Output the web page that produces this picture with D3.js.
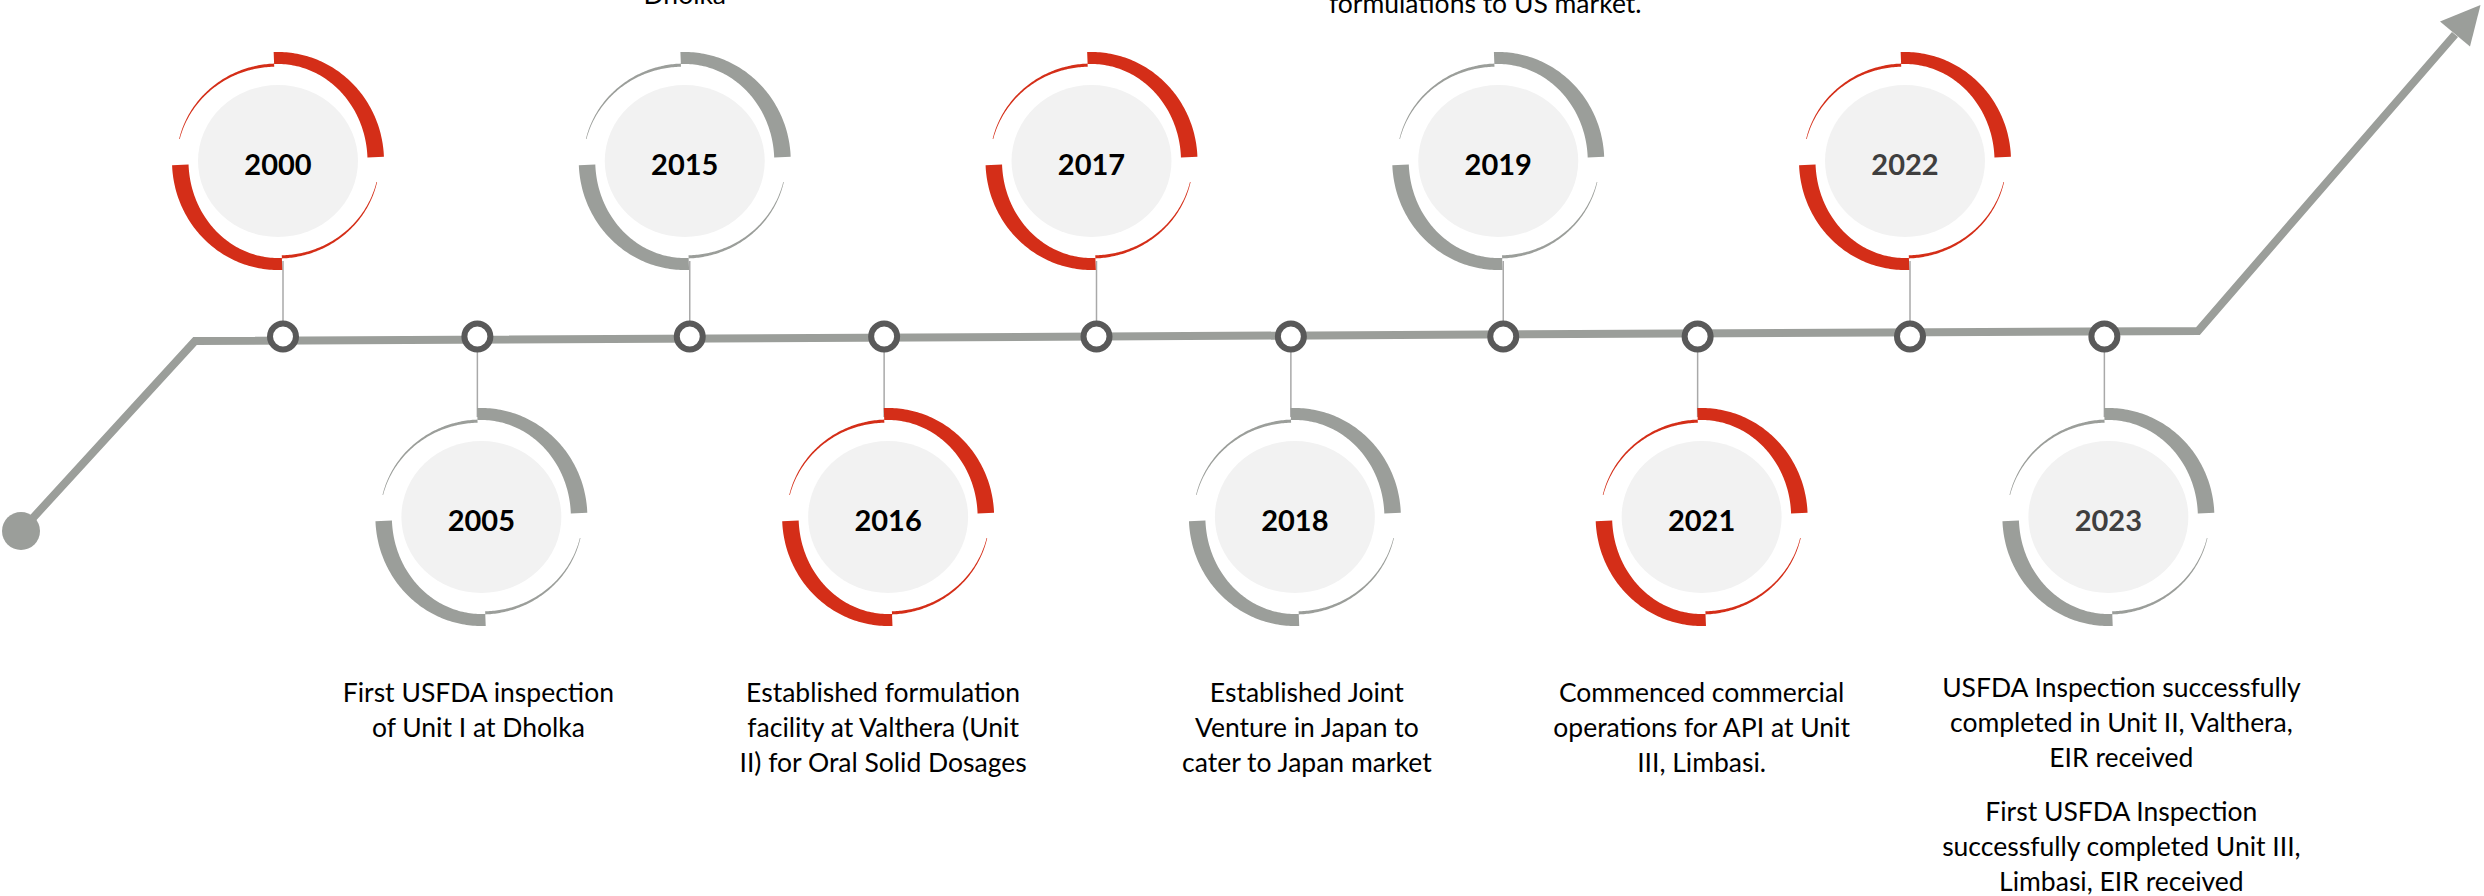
<!DOCTYPE html>
<html><head><meta charset="utf-8">
<script src="https://cdn.jsdelivr.net/npm/d3@7"></script>
<style>html,body{margin:0;padding:0;background:#fff;overflow:hidden}</style>
</head><body>
<svg id="chart" width="2484" height="896"></svg>
<script>
// ---------------- data ----------------
const years = ["2000","2005","2015","2016","2017","2018","2019","2021","2022","2023"];
const placement = ["above","below","above","below","above","below","above","below","above","below"];
const accent = ["red","grey","grey","red","red","grey","grey","red","red","grey"];
const yearTone = ["dark","dark","dark","dark","dark","dark","dark","dark","muted","muted"];
const descriptions = [
  [],
  [["First USFDA inspection","of Unit I at Dholka"]],
  [["Dholka"]],
  [["Established formulation","facility at Valthera (Unit","II) for Oral Solid Dosages"]],
  [],
  [["Established Joint","Venture in Japan to","cater to Japan market"]],
  [["formulations to US market."]],
  [["Commenced commercial","operations for API at Unit","III, Limbasi."]],
  [],
  [["USFDA Inspection successfully","completed in Unit II, Valthera,","EIR received"],
   ["First USFDA Inspection","successfully completed Unit III,","Limbasi, EIR received"]]
];

// ---------------- layout / style ----------------
const W = 2484, H = 896;
const palette = {red:"#D42E18", grey:"#9B9E9A"};
const toneColor = {dark:"#000000", muted:"#3F3F3F"};
const svg = d3.select("#chart");

const x = d3.scaleLinear().domain([0, 8]).range([283, 1910]);
const stagger = 9;
const nodeX = i => placement[i] === "above" ? x(i) : x(i) - stagger;
const nodeY = 336.5;
const ringY = {above:161, below:517};
const ringDx = {above:-5, below:4};
const labelDx = {"2018":12, "2023":13, "2019":-13, "2005":-3, "2016":-5};
const labelDy = {"2019":9, "2023":-5};

// main timeline path with arrow
const lineColor = "#9B9E9A";
const axisPts = [[21,531],[195,341],[2198,331],[2455,34.5]];
svg.append("path")
  .attr("d", d3.line()(axisPts))
  .attr("fill","none").attr("stroke",lineColor).attr("stroke-width",8)
  .attr("stroke-linejoin","miter");
svg.append("circle").attr("cx",21).attr("cy",531).attr("r",19).attr("fill",lineColor);
svg.append("path")
  .attr("d", d3.line()([[2480.5,5],[2440,21.5],[2470,46.5]]) + "Z")
  .attr("fill",lineColor);

// ring geometry helpers
function ellipseR(rx, ry){
  return a => rx*ry/Math.sqrt(Math.pow(ry*Math.sin(a),2)+Math.pow(rx*Math.cos(a),2));
}
const rot = -0.04;
const thickOuter = ellipseR(106,109), thickInner = ellipseR(89.5,97);
const thinOuter = ellipseR(101.5,97.5);
function band(a0, a1, inner, outer){
  const n = 80;
  const angles = d3.range(n+1).map(k => a0 + (a1-a0)*k/n);
  return d3.areaRadial().angle(a => a).innerRadius(inner).outerRadius(outer)(angles);
}
function taper(a0, a1){
  return band(a0, a1, a => thinOuter(a) - (0.6 + 2.6*(a-a0)/(a1-a0)), thinOuter);
}
const PI = Math.PI;

const items = years.map((y,i) => ({
  year:y, i, side:placement[i], color:palette[accent[i]], tone:toneColor[yearTone[i]],
  nx:nodeX(i), cx:nodeX(i)+ringDx[placement[i]], cy:ringY[placement[i]], desc:descriptions[i]
}));

// connectors
svg.selectAll("line.conn").data(items).join("line")
  .attr("class","conn")
  .attr("x1", d => d.nx).attr("x2", d => d.nx)
  .attr("y1", nodeY)
  .attr("y2", d => d.side === "above" ? d.cy + 100 : d.cy - 100)
  .attr("stroke","#A9A9A9").attr("stroke-width",1.5);

// rings
const g = svg.selectAll("g.ms").data(items).join("g")
  .attr("class","ms")
  .attr("transform", d => `translate(${d.cx},${d.cy})`);
g.append("path").attr("d", band(rot, PI/2+rot, thickInner, thickOuter)).attr("fill", d => d.color);
g.append("path").attr("d", band(PI+rot, 1.5*PI+rot, thickInner, thickOuter)).attr("fill", d => d.color);
g.append("path").attr("d", taper(-PI/2+0.22, rot)).attr("fill", d => d.color);
g.append("path").attr("d", taper(PI/2+0.21, PI+rot)).attr("fill", d => d.color);
g.append("ellipse").attr("rx",80).attr("ry",76).attr("fill","#F2F2F2");
g.append("text")
  .attr("y", 14).attr("text-anchor","middle")
  .attr("font-family","Lato, 'Open Sans', sans-serif").attr("font-weight",700)
  .attr("font-size",29).attr("fill", d => d.tone)
  .text(d => d.year);

// nodes
svg.selectAll("circle.node").data(items).join("circle")
  .attr("class","node")
  .attr("cx", d => d.nx).attr("cy", nodeY).attr("r",13)
  .attr("fill","#fff").attr("stroke","#595959").attr("stroke-width",6);

// descriptions
const lineH = 35, paraGap = 19;
items.forEach(d => {
  if (!d.desc.length) return;
  const tx = d.cx + (labelDx[d.year] || 0);
  const dy = labelDy[d.year] || 0;
  const lines = [];
  let yy = 0;
  d.desc.forEach((para, p) => {
    if (p > 0) yy += paraGap;
    para.forEach(t => { lines.push({t, y:yy}); yy += lineH; });
  });
  const total = yy - lineH;
  const base = d.side === "below" ? 702 + dy : 4 + dy - total;
  svg.append("g").selectAll("text").data(lines).join("text")
    .attr("x", tx).attr("y", l => base + l.y)
    .attr("text-anchor","middle")
    .attr("font-family","Lato, 'Open Sans', sans-serif")
    .attr("font-size",26.5).attr("fill","#000")
    .text(l => l.t);
});
</script>
</body></html>
